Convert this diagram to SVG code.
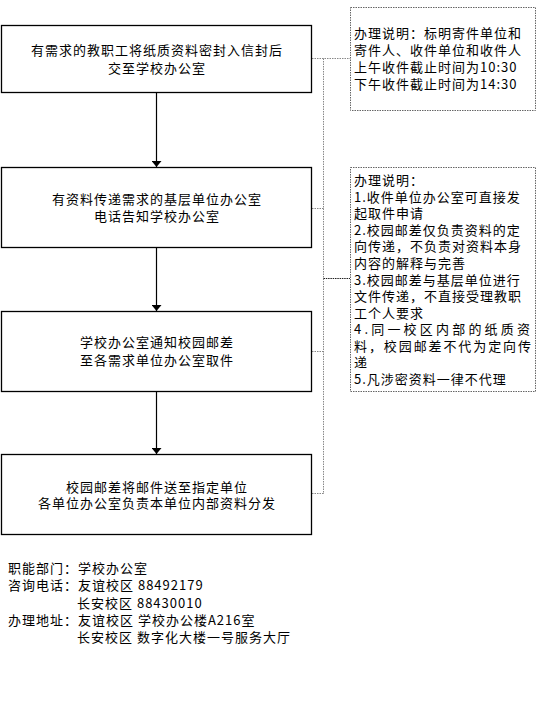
<svg xmlns="http://www.w3.org/2000/svg" width="557" height="711" viewBox="0 0 557 711">
<style>
text{font-family:"Noto Sans CJK SC","Liberation Sans",sans-serif;font-size:13px;letter-spacing:1px;fill:#000}
.c{text-anchor:middle}
.box{fill:#fff;stroke:#000;stroke-width:1.3}
.note{fill:#fff;stroke:#666;stroke-width:1;stroke-dasharray:1.5 1}
.dot{fill:none;stroke:#888;stroke-width:1;stroke-dasharray:1.5 1}
.dot2{fill:none;stroke:#222;stroke-width:1;stroke-dasharray:1.5 0.8}
.arr{fill:none;stroke:#000;stroke-width:1.2;marker-end:url(#ah)}
</style>
<defs>
<marker id="ah" viewBox="0 0 6 10" refX="6" refY="5" markerWidth="6" markerHeight="10" markerUnits="userSpaceOnUse" orient="auto-start-reverse">
<path d="M0,0 L6,5 L0,10 Z" fill="#000"/>
</marker>
</defs>
<rect width="557" height="711" fill="#fff"/>
<g id="connectors">
<line class="arr" x1="156.5" y1="92" x2="156.5" y2="167"/>
<line class="arr" x1="156.5" y1="247" x2="156.5" y2="311"/>
<line class="arr" x1="156.5" y1="391" x2="156.5" y2="454"/>
<polyline class="dot" points="312,58.5 323.5,58.5 350,58.5"/>
<line class="dot" x1="323.5" y1="58.5" x2="323.5" y2="494"/>
<line class="dot" x1="312" y1="208.5" x2="323.5" y2="208.5"/>
<line class="dot" x1="312" y1="351.5" x2="323.5" y2="351.5"/>
<line class="dot" x1="312" y1="493.5" x2="323.5" y2="493.5"/>
<line class="dot2" x1="323.5" y1="278.5" x2="350" y2="278.5"/>
</g>
<g id="step1">
<rect class="box" x="1.5" y="25.5" width="310" height="67"/>
<text class="c" x="157" y="55">有需求的教职工将纸质资料密封入信封后</text>
<text class="c" x="157" y="73">交至学校办公室</text>
</g>
<g id="step2">
<rect class="box" x="1.5" y="167.5" width="310" height="80"/>
<text class="c" x="157" y="204">有资料传递需求的基层单位办公室</text>
<text class="c" x="157" y="221">电话告知学校办公室</text>
</g>
<g id="step3">
<rect class="box" x="1.5" y="311.5" width="310" height="80"/>
<text class="c" x="157" y="347">学校办公室通知校园邮差</text>
<text class="c" x="157" y="365">至各需求单位办公室取件</text>
</g>
<g id="step4">
<rect class="box" x="1.5" y="454.5" width="310" height="80"/>
<text class="c" x="157" y="492">校园邮差将邮件送至指定单位</text>
<text class="c" x="157" y="508">各单位办公室负责本单位内部资料分发</text>
</g>
<g id="note1">
<rect class="note" x="350.5" y="7.5" width="185" height="103"/>
<text x="354" y="38">办理说明：标明寄件单位和</text>
<text x="354" y="55">寄件人、收件单位和收件人</text>
<text x="354" y="72">上午收件截止时间为10:30</text>
<text x="354" y="89">下午收件截止时间为14:30</text>
</g>
<g id="note2">
<rect class="note" x="350.5" y="167.5" width="185" height="224"/>
<text x="354" y="185">办理说明：</text>
<text x="354" y="201.6">1.收件单位办公室可直接发</text>
<text x="354" y="218.2">起取件申请</text>
<text x="354" y="234.7">2.校园邮差仅负责资料的定</text>
<text x="354" y="251.3">向传递，不负责对资料本身</text>
<text x="354" y="267.9">内容的解释与完善</text>
<text x="354" y="284.5">3.校园邮差与基层单位进行</text>
<text x="354" y="301.1">文件传递，不直接受理教职</text>
<text x="354" y="317.6">工个人要求</text>
<text x="354" y="334.2" textLength="177" lengthAdjust="spacing">4.同一校区内部的纸质资</text>
<text x="354" y="350.8" textLength="178" lengthAdjust="spacing">料，校园邮差不代为定向传</text>
<text x="354" y="367.4">递</text>
<text x="354" y="384">5.凡涉密资料一律不代理</text>
</g>
<g id="footer">
<text x="8" y="573">职能部门：学校办公室</text>
<text x="8" y="590">咨询电话：友谊校区 88492179</text>
<text x="77" y="608">长安校区 88430010</text>
<text x="8" y="625">办理地址：友谊校区 学校办公楼A216室</text>
<text x="77" y="642">长安校区 数字化大楼一号服务大厅</text>
</g>
</svg>
